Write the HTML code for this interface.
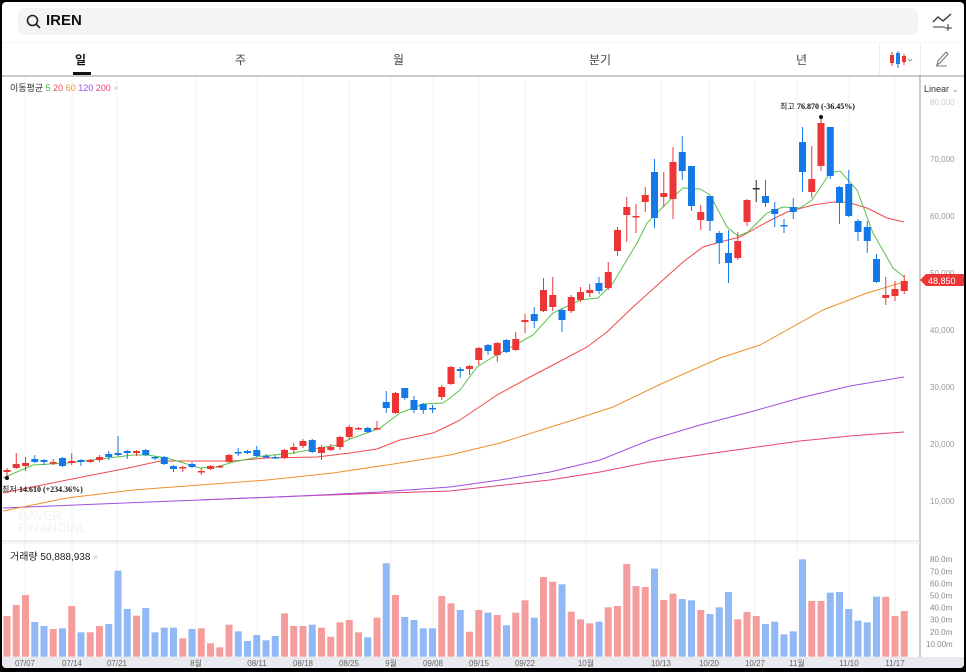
<!DOCTYPE html>
<html><head><meta charset="utf-8">
<style>
html,body{margin:0;padding:0;background:#000;}
#w{position:relative;width:966px;height:672px;overflow:hidden;background:#000;font-family:"Liberation Sans","Noto Sans CJK KR",sans-serif;}
#p{position:absolute;left:2px;top:2px;width:962px;height:666px;background:#fff;border-radius:4px;overflow:hidden;}
.t{position:absolute;font-size:11px;color:#333;}
</style></head><body>
<div id="w"><div id="p">
<div style="position:absolute;left:16px;top:6px;width:900px;height:27px;background:#f3f4f6;border-radius:6px;"></div>
<svg style="position:absolute;left:24px;top:12px" width="16" height="16"><circle cx="6.5" cy="6.5" r="5" fill="none" stroke="#222" stroke-width="1.6"/><line x1="10" y1="10" x2="14" y2="14" stroke="#222" stroke-width="1.6"/></svg>
<div class="t" style="left:44px;top:10px;font-size:15px;font-weight:bold;color:#111">IREN</div>
<svg style="position:absolute;left:930px;top:10px" width="22" height="20"><polyline points="1,10 6,5 11,9 19,2" fill="none" stroke="#333" stroke-width="1.3"/><line x1="1" y1="15" x2="13" y2="15" stroke="#333"/><line x1="16" y1="12" x2="16" y2="19" stroke="#333"/><line x1="13" y1="16" x2="20" y2="16" stroke="#333"/></svg>
<div style="position:absolute;left:0;top:40px;width:962px;height:1px;background:#f6f6f6"></div>
<div class="t" style="left:73px;top:49px;font-size:12px;font-weight:bold;color:#111">일</div>
<div style="position:absolute;left:71px;top:70px;width:18px;height:3px;background:#111"></div>
<div class="t" style="left:233px;top:49px;font-size:12px;color:#444">주</div>
<div class="t" style="left:391px;top:49px;font-size:12px;color:#444">월</div>
<div class="t" style="left:587px;top:49px;font-size:12px;color:#444">분기</div>
<div class="t" style="left:794px;top:49px;font-size:12px;color:#444">년</div>
<div style="position:absolute;left:877px;top:42px;width:1px;height:31px;background:#eee"></div>
<div style="position:absolute;left:918px;top:42px;width:1px;height:31px;background:#eee"></div>
<svg style="position:absolute;left:886px;top:48px" width="28" height="20"><line x1="4" y1="2" x2="4" y2="16" stroke="#e33"/><rect x="2" y="5" width="4" height="8" fill="#e33"/><line x1="10" y1="1" x2="10" y2="18" stroke="#1a7ee8"/><rect x="8" y="3" width="4" height="11" fill="#1a7ee8"/><line x1="16" y1="4" x2="16" y2="15" stroke="#e33"/><rect x="14" y="6" width="4" height="6" fill="#e33"/><polyline points="20,9 22,11 24,9" fill="none" stroke="#999"/></svg>
<svg style="position:absolute;left:932px;top:48px" width="16" height="18"><path d="M3,15 L4,11 L12,2 L14,4 L6,13 Z" fill="none" stroke="#777" stroke-width="1.1"/><line x1="2" y1="16" x2="13" y2="16" stroke="#777"/></svg>
<div style="position:absolute;left:0;top:73px;width:962px;height:2px;background:#ccc"></div>
<svg id="c" style="position:absolute;left:-2px;top:-2px" width="966" height="672"></svg>
<div class="t" style="left:8px;top:79px;font-size:9px;color:#333">이동평균 <span style="color:#3cb83c">5</span> <span style="color:#f04a4a">20</span> <span style="color:#f0902a">60</span> <span style="color:#a050e0">120</span> <span style="color:#e8407a">200</span> <span style="color:#bbb;font-size:8px">×</span></div>
<div class="t" style="left:922px;top:82px;font-size:9px;color:#333">Linear <span style="color:#999">⌄</span></div>
<div class="t" style="left:8px;top:546px;font-size:10px;color:#222">거래량 50,888,938 <span style="color:#bbb;font-size:8px">×</span></div>
</div></div>
<script>
var s=document.getElementById('c'),h='';
function L(x1,y1,x2,y2,c,w){h+='<line x1="'+x1+'" y1="'+y1+'" x2="'+x2+'" y2="'+y2+'" stroke="'+c+'" stroke-width="'+(w||1)+'"/>';}
function R(x,y,w,hh,c){h+='<rect x="'+x+'" y="'+y+'" width="'+w+'" height="'+hh+'" fill="'+c+'"/>';}
function T(x,y,t,sz,c,a,f){h+='<text x="'+x+'" y="'+y+'" font-size="'+sz+'" fill="'+c+'" text-anchor="'+(a||'start')+'" font-family="'+(f||'Liberation Sans, Noto Sans CJK KR, sans-serif')+'">'+t+'</text>';}
var labs=[[25,'07/07'],[72,'07/14'],[117,'07/21'],[196,'8월'],[257,'08/11'],[303,'08/18'],[349,'08/25'],[391,'9월'],[433,'09/08'],[479,'09/15'],[525,'09/22'],[586,'10월'],[661,'10/13'],[709,'10/20'],[755,'10/27'],[797,'11월'],[849,'11/10'],[895,'11/17']];
labs.forEach(function(l){L(l[0],77,l[0],656,'#f2f2f2');});
L(920,75,920,668,'#999');
L(0,541,920,541,'#ddd');L(0,543,920,543,'#eee');
R(0,657,966,11,'#e9eaef');
labs.forEach(function(l){T(l[0],666,l[1],8,'#666','middle');});
for(var p=8;p>=1;p--){var y=102+(8-p)*57;T(930,y+3,p+'0,000',8,p==8?'#ccc':'#999');}
for(var v=8;v>=2;v--){var y=656-v*12.1;T(930,y+3,v+'0.0m',8,'#888');}
T(926,647,'10.00m',8,'#888');
T(18,520,'NAVER',13,'#f2f2f2','start');T(18,532,'FINANCIAL',13,'#f2f2f2','start');
function P(pts,c){h+='<polyline points="'+pts+'" fill="none" stroke="'+c+'" stroke-width="1"/>';}
P('200,500 300,496 450,491 550,480 600,472 650,462 700,455 750,448 800,441 850,436 904,432','#e8407a');
P('3,508 100,504 200,500 300,496 380,492 450,487 500,480 550,472 600,460 650,440 700,425 750,412 800,398 850,386 904,377','#a050e0');
P('3,511 67,498 133,490 200,485 267,480 333,473 400,463 450,455 500,443 573,420 613,407 663,383 720,358 760,345 823,310 867,293 904,282','#f0902a');
P('3,493 67,480 133,467 160,461 200,461 233,461 267,458 317,457 350,453 377,449 400,440 433,433 450,425 460,420 497,395 530,377 553,365 587,347 607,332 633,307 663,280 683,262 703,247 720,242 740,237 767,222 787,212 813,205 833,202 847,202 867,208 887,218 904,222','#f04a4a');
P('3,478 33,465 67,463 100,459 133,455 147,455 167,458 200,468 217,467 233,462 263,456 293,453 320,448 337,445 350,439 367,433 380,428 400,413 423,404 443,403 450,398 460,390 477,367 493,357 533,335 553,313 580,300 598,298 613,283 637,243 647,223 673,197 683,188 700,189 710,195 727,227 738,236 748,232 767,213 783,207 800,208 812,200 822,185 830,173 840,171 857,190 873,233 893,268 904,277','#5cc24a');
var C=[[470,472,'r',468,476],[464,468,'r',453,469],[463,466,'r',457,471],[459,462,'b',455,463],[460,462,'b',459,465],[462,463,'r',459,465],[458,466,'b',457,467],[461,463,'r',453,465],[460,462,'b',459,466],[460,462,'r',459,463],[457,460,'r',455,462],[454,457,'b',451,460],[453,455,'b',436,456],[451,453,'b',450,459],[451,453,'r',450,456],[450,455,'b',449,456],[457,458,'b',456,460],[457,464,'b',456,465],[466,469,'b',465,472],[467,468,'r',466,472],[464,467,'b',462,468],[471,472,'r',468,475],[466,469,'r',465,470],[466,467,'r',465,468],[455,462,'r',454,463],[452,453,'b',448,456],[451,453,'b',450,454],[450,456,'b',446,457],[456,457,'b',454,458],[457,458,'b',455,459],[450,458,'r',449,459],[447,450,'r',443,454],[441,446,'r',439,448],[440,452,'b',439,453],[447,453,'r',445,460],[447,450,'r',444,451],[437,447,'r',436,450],[427,437,'r',425,439],[428,429,'r',427,430],[428,432,'b',427,433],[428,429,'r',421,430],[402,408,'b',391,413],[393,413,'r',392,414],[388,398,'b',388,400],[400,410,'b',396,413],[404,410,'b',403,414],[408,409,'b',405,413],[387,397,'r',385,400],[367,384,'r',366,385],[369,371,'b',367,378],[366,369,'r',365,375],[348,360,'r',347,365],[345,351,'b',344,355],[343,355,'r',342,362],[340,352,'b',339,353],[339,350,'r',332,351],[320,322,'r',314,333],[314,321,'b',307,328],[290,311,'r',278,312],[295,307,'r',277,311],[310,320,'b',308,332],[297,311,'r',295,313],[292,300,'r',287,302],[290,293,'r',284,297],[283,291,'b',277,294],[272,288,'r',262,290],[230,251,'r',227,256],[207,215,'r',197,242],[216,217,'r',204,233],[195,202,'r',187,212],[172,218,'b',159,228],[193,197,'r',172,207],[162,199,'r',147,219],[152,171,'b',136,180],[166,206,'b',166,211],[212,220,'r',205,230],[196,221,'b',196,231],[233,243,'b',231,264],[253,263,'b',230,283],[241,258,'r',232,260],[200,222,'r',199,226],[188,189,'k',180,202],[196,203,'b',180,207],[209,214,'b',202,227],[225,226,'b',219,233],[207,212,'b',198,219],[142,172,'b',127,192],[179,192,'r',146,198],[123,166,'r',118,171],[127,176,'b',127,179],[187,203,'b',186,224],[184,216,'b',170,217],[221,232,'b',219,241],[227,241,'b',221,253],[259,282,'b',254,283],[295,298,'r',277,305],[289,296,'r',281,301],[281,291,'r',275,294]];
var col={r:'#ee3535',b:'#1478e6',k:'#333'};
C.forEach(function(c,i){var x=7+i*9.25,cl=col[c[2]];L(x,c[3],x,c[4],cl);R(x-3.5,c[0],7,Math.max(1.5,c[1]-c[0]),cl);});
h+='<circle cx="821" cy="117" r="2" fill="#111"/>';
T(780,109,'최고  <tspan font-family="Liberation Serif, serif" font-weight="bold">76.870 (-36.45%)</tspan>',8,'#111');
h+='<circle cx="7" cy="478" r="2" fill="#111"/>';
T(2,492,'최저  <tspan font-family="Liberation Serif, serif" font-weight="bold">14.610 (+234.36%)</tspan>',8,'#111');
h+='<path d="M920,280 L926,274 L966,274 L966,286 L926,286 Z" fill="#ee3535"/>';
T(928,284,'48,850',9,'#fff');
var V=[258,225,195,276,288,297,295,228,307,307,288,282,122,237,257,234,307,293,293,325,297,295,340,352,284,304,333,315,331,318,250,288,288,284,293,320,277,270,307,322,263,100,195,261,270,295,295,198,220,240,305,240,248,255,286,248,211,263,141,155,163,245,268,280,275,232,228,102,168,171,116,210,191,207,211,240,252,232,186,268,246,258,282,275,313,304,88,213,213,188,186,237,272,277,200,200,258,243];
V.forEach(function(zy,i){var cc=C[i]?C[i][2]:'b';var x=7+i*9.25,y=530+zy/3;R(x-3.5,y,7,656.7-y,cc=='b'?'#8fb8f4':'#f59d9d');});
s.innerHTML=h;
</script>
</body></html>
